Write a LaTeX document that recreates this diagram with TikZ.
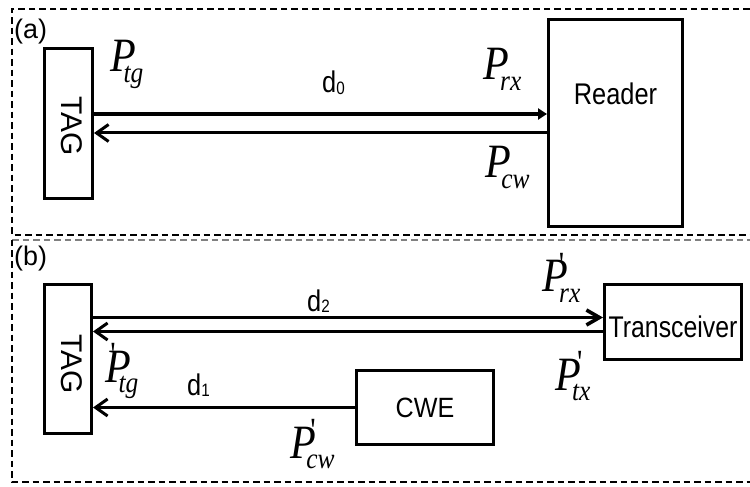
\documentclass[tikz,border=0pt]{standalone}
\usepackage{fontspec}
\usepackage{graphicx}
\usetikzlibrary{arrows.meta}
\newfontfamily\tms{Liberation Serif}
\newfontfamily\arl{Liberation Sans}
\newcommand\Pl[2]{\scalebox{0.88}[1]{\tms\itshape\fontsize{48}{48}\selectfont P\kern#1\raisebox{-11pt}{\fontsize{29}{29}\selectfont #2}}}
\newcommand\Pp[3]{\scalebox{0.88}[1]{\tms\itshape\fontsize{48}{48}\selectfont\rlap{\hspace{#1}\raisebox{17pt}{\upshape\fontsize{34}{34}\selectfont\char"27}}P\kern#2\raisebox{-11pt}{\fontsize{29}{29}\selectfont #3}}}
\newcommand\dlab[1]{\scalebox{0.85}[1]{\arl\fontsize{30}{30}\selectfont d\raisebox{-2pt}{\fontsize{18}{18}\selectfont #1}}}
\newcommand\tagtext[1]{\rotatebox{-90}{\raisebox{0pt}[\height][7pt]{\hspace{#1}\arl\fontsize{30}{30}\selectfont TAG}}}
\begin{document}
\begin{tikzpicture}[x=1bp,y=-1bp,
  box/.style={draw, line width=3bp, inner sep=0pt, align=center},
  panel/.style={line width=2.8bp, dash pattern=on 6.5bp off 4bp},
  lab/.style={inner sep=0pt, anchor=base west},
  thickarr/.style={line width=3.6bp},
  thinarr/.style={line width=3bp},
  barb/.style={-{Straight Barb[length=12bp,width=17bp]}}]
\useasboundingbox (0,0) rectangle (750,487);
% panels
\draw[panel] (760,9) -- (12,9) -- (12,235) -- (760,235);
\draw[panel, line width=1.2bp, gray] (12,240) -- (760,240);
\draw[panel] (12,240) -- (12,482) -- (760,482);
\node[lab] (la) at (14,39) {\arl\fontsize{27}{27}\selectfont (a)};
\node[lab] (lb) at (14,266) {\arl\fontsize{27}{27}\selectfont (b)};
% (a)
\node[box, minimum width=48bp, minimum height=150bp] (tagA) at (68.5,123.5) {\tagtext{5pt}};
\node[box, minimum width=134bp, minimum height=207bp, text height=22bp, text depth=58bp] (reader) at (615.5,123)
  {\scalebox{0.85}[1]{\arl\fontsize{30}{30}\selectfont Reader}};
\draw[thickarr, -{Triangle[length=9bp,width=11bp]}] (tagA.east |- 0,114) -- (reader.west |- 0,114);
\draw[thinarr, barb] (reader.west |- 0,133) -- (tagA.east |- 0,133);
\node[lab] (ptg) at (110,72) {\Pl{-14pt}{tg}};
\node[lab] (prx) at (483,80) {\Pl{-10pt}{rx}};
\node[lab] (pcw) at (485,178) {\Pl{-11pt}{cw}};
\node[lab] (d0) at (322,93) {\dlab{0}};
% (b)
\node[box, minimum width=47bp, minimum height=149bp] (tagB) at (68,359) {\tagtext{10pt}};
\node[box, minimum width=137bp, minimum height=75bp, text height=30bp, text depth=0bp] (trx) at (673,322)
  {\scalebox{0.83}[1]{\arl\fontsize{30}{30}\selectfont Transceiver}};
\node[box, minimum width=137bp, minimum height=74bp, text height=19bp, text depth=0bp] (cwe) at (425,407.5)
  {\scalebox{0.9}[1]{\arl\fontsize{28}{28}\selectfont CWE}};
\draw[thickarr, -{Straight Barb[length=13bp,width=15bp]}] (tagB.east |- 0,317.5) -- (trx.west |- 0,317.5);
\draw[thinarr, barb] (trx.west |- 0,331.5) -- (tagB.east |- 0,331.5);
\draw[thinarr, barb] (cwe.west) -- (tagB.east |- cwe.west);
\node[lab] (ptgb) at (105,382) {\Pp{6pt}{-14pt}{tg}};
\node[lab] (prxb) at (542,292) {\Pp{19pt}{-10pt}{rx}};
\node[lab] (ptxb) at (555,390) {\Pp{25pt}{-10pt}{tx}};
\node[lab] (pcwb) at (290,458) {\Pp{23pt}{-11pt}{cw}};
\node[lab] (d2) at (307,311) {\dlab{2}};
\node[lab] (d1) at (187,395) {\dlab{1}};
\end{tikzpicture}
\end{document}
